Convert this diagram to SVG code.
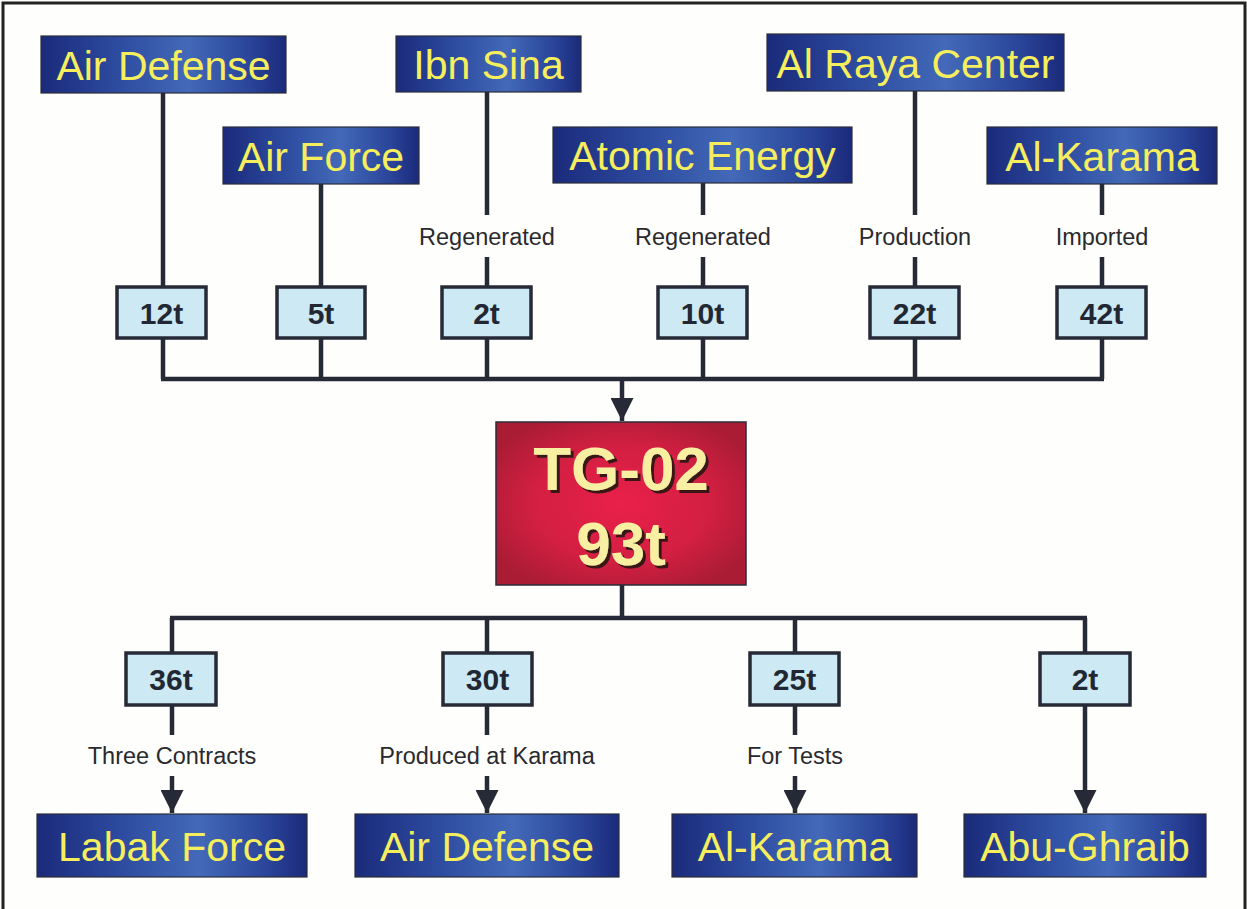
<svg xmlns="http://www.w3.org/2000/svg" width="1247" height="909" viewBox="0 0 1247 909">
<defs>
<linearGradient id="blue" x1="0" y1="0" x2="1" y2="0">
<stop offset="0" stop-color="#1b2a7a"/>
<stop offset="0.3" stop-color="#2c4a9e"/>
<stop offset="0.6" stop-color="#4369b8"/>
<stop offset="0.85" stop-color="#2a459a"/>
<stop offset="1" stop-color="#1b2a7a"/>
</linearGradient>
<radialGradient id="red" cx="0.5" cy="0.5" r="0.6">
<stop offset="0" stop-color="#ea2049"/>
<stop offset="0.6" stop-color="#d21f42"/>
<stop offset="1" stop-color="#a91c33"/>
</radialGradient>
<filter id="sh" x="-10%" y="-10%" width="130%" height="130%">
<feDropShadow dx="3" dy="3" stdDeviation="0.4" flood-color="#3a1414" flood-opacity="1"/>
</filter>
<marker id="arr" viewBox="0 0 23 23" refX="23" refY="11.5" markerWidth="23" markerHeight="23" markerUnits="userSpaceOnUse" orient="auto">
<path d="M0,0 L23,11.5 L0,23 z" fill="#262a36"/>
</marker>
<style>
.big rect{fill:url(#blue);stroke:#2a2d3a;stroke-width:1.2}
.big text{font-family:"Liberation Sans",Arial,sans-serif;font-size:41px;fill:#f6ee5c;text-anchor:middle}
.qty rect{fill:#cde9f4;stroke:#262a36;stroke-width:3.5}
.qty text{font-family:"Liberation Sans",Arial,sans-serif;font-size:30px;font-weight:bold;fill:#222833;text-anchor:middle}
.lbl{font-family:"Liberation Sans",Arial,sans-serif;font-size:23.5px;fill:#2a2a2e;text-anchor:middle}
.ln{fill:none;stroke:#262a36;stroke-width:4.5}
.tg text{font-family:"Liberation Sans",Arial,sans-serif;font-size:62px;font-weight:bold;text-anchor:middle;fill:#f8efa2;filter:url(#sh)}
</style>
</defs>
<rect x="0" y="0" width="1247" height="909" fill="#fefefc"/>
<path d="M3,909 V3 H1245 V909" fill="none" stroke="#222" stroke-width="3"/>

<g id="connectors">
<path class="ln" d="M163,93 V287 M163,338 V379"/>
<path class="ln" d="M321,184 V287 M321,338 V379"/>
<path class="ln" d="M487,92 V215 M487,257 V287 M487,338 V379"/>
<path class="ln" d="M703,183 V215 M703,257 V287 M703,338 V379"/>
<path class="ln" d="M915,91 V215 M915,257 V287 M915,338 V379"/>
<path class="ln" d="M1102,184 V215 M1102,257 V287 M1102,338 V379"/>
<path class="ln" d="M161,379 H1104"/>
<path class="ln" d="M622,379 V421" marker-end="url(#arr)"/>
<path class="ln" d="M622,585 V618 M170,618 H1087"/>
<path class="ln" d="M172,618 V653 M172,705 V735"/>
<path class="ln" d="M172,776 V813" marker-end="url(#arr)"/>
<path class="ln" d="M487,618 V653 M487,705 V735"/>
<path class="ln" d="M487,776 V813" marker-end="url(#arr)"/>
<path class="ln" d="M795,618 V653 M795,705 V735"/>
<path class="ln" d="M795,776 V813" marker-end="url(#arr)"/>
<path class="ln" d="M1085,618 V653"/>
<path class="ln" d="M1085,705 V813" marker-end="url(#arr)"/>
</g>

<g id="labels">
<text class="lbl" x="487" y="245">Regenerated</text>
<text class="lbl" x="703" y="245">Regenerated</text>
<text class="lbl" x="915" y="245">Production</text>
<text class="lbl" x="1102" y="245">Imported</text>
<text class="lbl" x="172" y="764">Three Contracts</text>
<text class="lbl" x="487" y="764">Produced at Karama</text>
<text class="lbl" x="795" y="764">For Tests</text>
</g>

<g id="src-air-defense" class="big"><rect x="41" y="36" width="245" height="57"/><text x="163.5" y="79.5">Air Defense</text></g>
<g id="src-air-force" class="big"><rect x="223" y="127" width="196" height="57"/><text x="321" y="170.5">Air Force</text></g>
<g id="src-ibn-sina" class="big"><rect x="396" y="36" width="185" height="56"/><text x="488.5" y="79">Ibn Sina</text></g>
<g id="src-atomic-energy" class="big"><rect x="553" y="127" width="299" height="56"/><text x="702.5" y="170">Atomic Energy</text></g>
<g id="src-al-raya" class="big"><rect x="767" y="34" width="297" height="57"/><text x="915.5" y="77.5">Al Raya Center</text></g>
<g id="src-al-karama" class="big"><rect x="987" y="127" width="230" height="57"/><text x="1102" y="170.5">Al-Karama</text></g>

<g id="q-12t" class="qty"><rect x="117" y="287" width="89" height="51"/><text x="161.5" y="323.5">12t</text></g>
<g id="q-5t" class="qty"><rect x="277" y="287" width="88" height="51"/><text x="321" y="323.5">5t</text></g>
<g id="q-2t-top" class="qty"><rect x="442" y="287" width="89" height="51"/><text x="486.5" y="323.5">2t</text></g>
<g id="q-10t" class="qty"><rect x="658" y="287" width="89" height="51"/><text x="702.5" y="323.5">10t</text></g>
<g id="q-22t" class="qty"><rect x="870" y="287" width="89" height="51"/><text x="914.5" y="323.5">22t</text></g>
<g id="q-42t" class="qty"><rect x="1057" y="287" width="89" height="51"/><text x="1101.5" y="323.5">42t</text></g>

<g id="tg02" class="tg">
<rect x="496" y="422" width="250" height="163" fill="url(#red)" stroke="#2a2d3a" stroke-width="1.5"/>
<text x="621" y="490">TG-02</text>
<text x="621" y="565">93t</text>
</g>

<g id="q-36t" class="qty"><rect x="126" y="653" width="90" height="52"/><text x="171" y="690">36t</text></g>
<g id="q-30t" class="qty"><rect x="443" y="653" width="89" height="52"/><text x="487.5" y="690">30t</text></g>
<g id="q-25t" class="qty"><rect x="750" y="653" width="89" height="52"/><text x="794.5" y="690">25t</text></g>
<g id="q-2t-bottom" class="qty"><rect x="1040" y="653" width="90" height="52"/><text x="1085" y="690">2t</text></g>

<g id="dst-labak-force" class="big"><rect x="37" y="814" width="270" height="63"/><text x="172" y="860.5">Labak Force</text></g>
<g id="dst-air-defense" class="big"><rect x="355" y="814" width="264" height="63"/><text x="487" y="860.5">Air Defense</text></g>
<g id="dst-al-karama" class="big"><rect x="672" y="814" width="245" height="63"/><text x="794.5" y="860.5">Al-Karama</text></g>
<g id="dst-abu-ghraib" class="big"><rect x="964" y="814" width="242" height="63"/><text x="1085" y="860.5">Abu-Ghraib</text></g>
</svg>
